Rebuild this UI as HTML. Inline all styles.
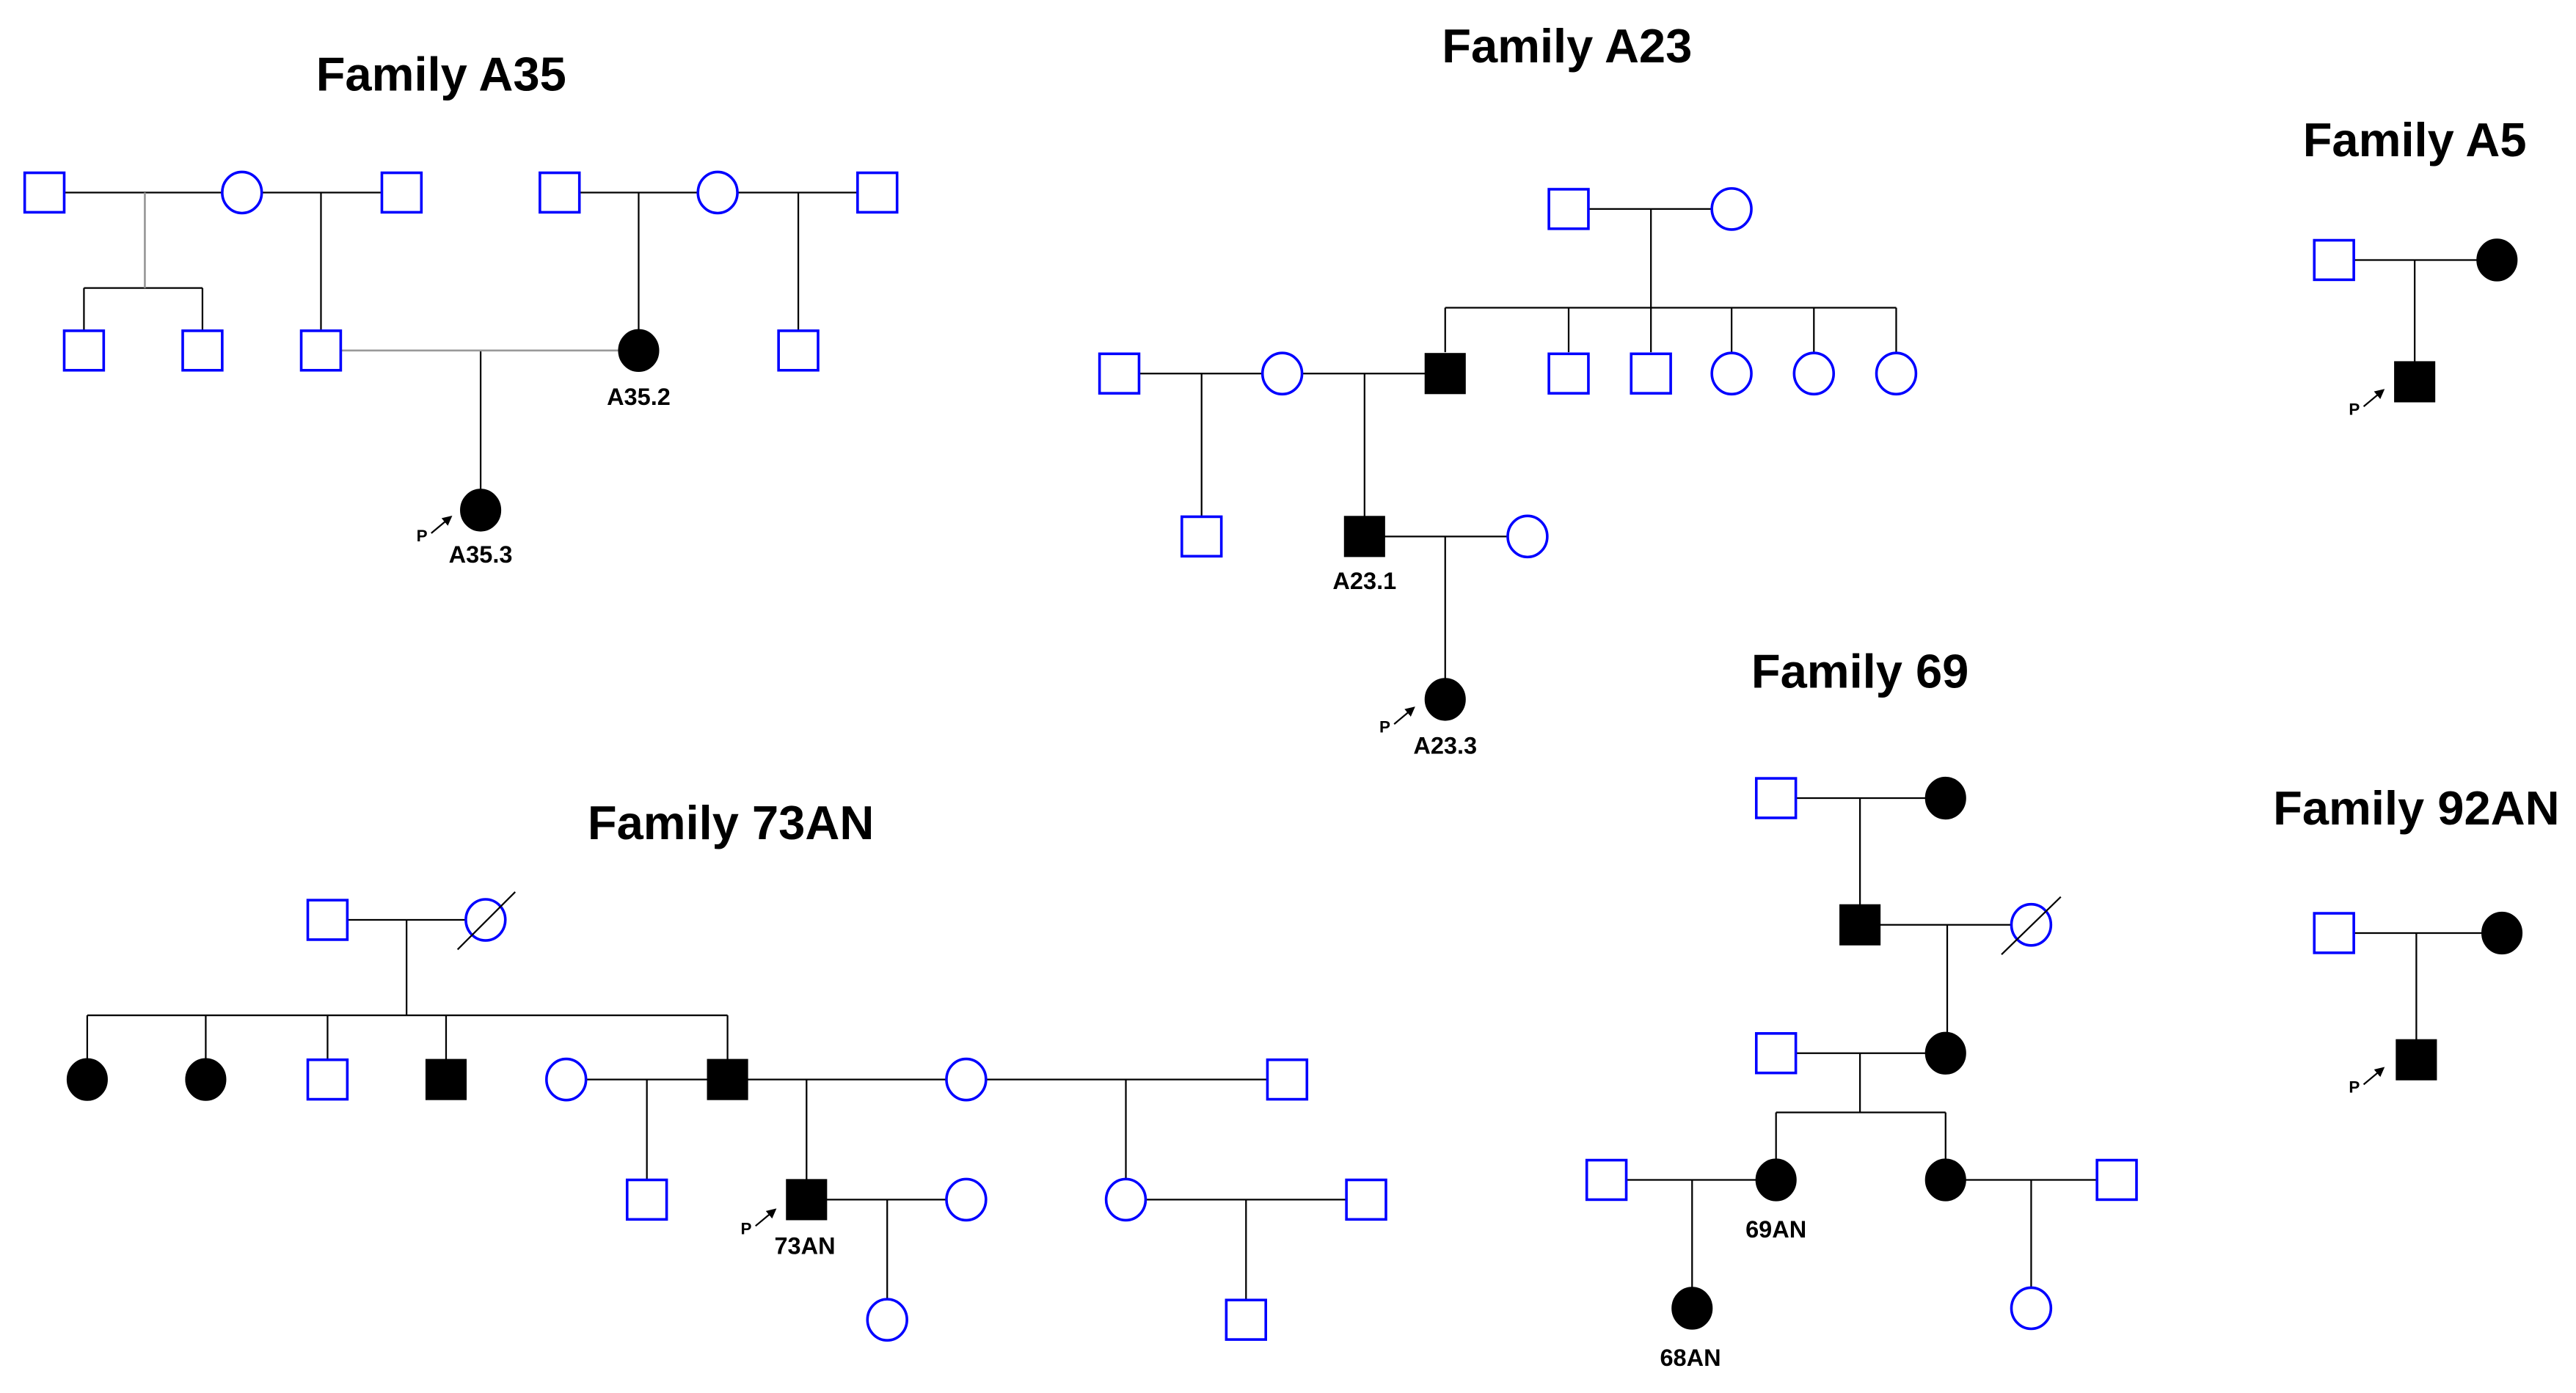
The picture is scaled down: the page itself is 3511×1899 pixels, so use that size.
<!DOCTYPE html>
<html><head><meta charset="utf-8"><style>
html,body{margin:0;padding:0;background:#fff;}
svg{display:block;}
text{font-family:"Liberation Sans",Arial,sans-serif;font-weight:bold;fill:#000;}
.t{font-size:29px;text-anchor:middle;}
.l{font-size:14.5px;text-anchor:middle;}
.p{font-size:10px;}
.s{fill:#fff;stroke:#0000ff;stroke-width:1.6;}
.f{fill:#000;stroke:#000;stroke-width:1;}
.k{stroke:#000;stroke-width:1;fill:none;}
.g{stroke:#999;stroke-width:1.2;fill:none;}
</style></head><body>
<svg width="3511" height="1899" viewBox="0 0 1565 846.5" preserveAspectRatio="none" xmlns="http://www.w3.org/2000/svg">
<defs>
<marker id="ar" markerWidth="6" markerHeight="6" refX="5" refY="3" orient="auto"><path d="M0,0 L6,3 L0,6 z" fill="#000"/></marker>
</defs>
<!-- Family A35 -->
<text class="t" x="268" y="55">Family A35</text>
<g class="k">
<path d="M39 117H135M159 117H232M352 117H424M448 117H521"/>
<path d="M195 117V201M388 117V201M485 117V201"/>
<path d="M292 213V298"/>
<path d="M51 175H123M51 175V201M123 175V201"/>
</g>
<path class="g" d="M88 117V175M207 213H376"/>
<rect class="s" x="15" y="105" width="24" height="24"/>
<rect class="s" x="232" y="105" width="24" height="24"/>
<rect class="s" x="328" y="105" width="24" height="24"/>
<rect class="s" x="521" y="105" width="24" height="24"/>
<ellipse class="s" cx="147" cy="117" rx="12" ry="12.5"/>
<ellipse class="s" cx="436" cy="117" rx="12" ry="12.5"/>
<rect class="s" x="39" y="201" width="24" height="24"/>
<rect class="s" x="111" y="201" width="24" height="24"/>
<rect class="s" x="183" y="201" width="24" height="24"/>
<rect class="s" x="473" y="201" width="24" height="24"/>
<ellipse class="f" cx="388" cy="213" rx="12" ry="12.5"/>
<ellipse class="f" cx="292" cy="310" rx="12" ry="12.5"/>
<text class="l" x="388" y="246">A35.2</text>
<text class="l" x="292" y="342">A35.3</text>
<text class="p" x="253" y="329">P</text>
<line class="k" x1="262" y1="324" x2="274" y2="314" marker-end="url(#ar)"/>

<!-- Family A23 -->
<text class="t" x="952" y="38">Family A23</text>
<g class="k">
<path d="M965 127H1040M1003 127V187M878 187H1152"/>
<path d="M878 187V214M953 187V214M1003 187V214M1052 187V214M1102 187V214M1152 187V214"/>
<path d="M692 227H767M791 227H866M730 227V314M829 227V314M841 326H916M878 326V413"/>
</g>
<rect class="s" x="941" y="115" width="24" height="24"/>
<ellipse class="s" cx="1052" cy="127" rx="12" ry="12.5"/>
<rect class="s" x="668" y="215" width="24" height="24"/>
<ellipse class="s" cx="779" cy="227" rx="12" ry="12.5"/>
<rect class="f" x="866" y="215" width="24" height="24"/>
<rect class="s" x="941" y="215" width="24" height="24"/>
<rect class="s" x="991" y="215" width="24" height="24"/>
<ellipse class="s" cx="1052" cy="227" rx="12" ry="12.5"/>
<ellipse class="s" cx="1102" cy="227" rx="12" ry="12.5"/>
<ellipse class="s" cx="1152" cy="227" rx="12" ry="12.5"/>
<rect class="s" x="718" y="314" width="24" height="24"/>
<rect class="f" x="817" y="314" width="24" height="24"/>
<ellipse class="s" cx="928" cy="326" rx="12" ry="12.5"/>
<ellipse class="f" cx="878" cy="425" rx="12" ry="12.5"/>
<text class="l" x="829" y="358">A23.1</text>
<text class="l" x="878" y="458">A23.3</text>
<text class="p" x="838" y="445">P</text>
<line class="k" x1="847" y1="440" x2="859" y2="430" marker-end="url(#ar)"/>

<!-- Family A5 -->
<text class="t" x="1467" y="95">Family A5</text>
<path class="k" d="M1430 158H1505M1467 158V220"/>
<rect class="s" x="1406" y="146" width="24" height="24"/>
<ellipse class="f" cx="1517" cy="158" rx="12" ry="12.5"/>
<rect class="f" x="1455" y="220" width="24" height="24"/>
<text class="p" x="1427" y="252">P</text>
<line class="k" x1="1436" y1="247" x2="1448" y2="237" marker-end="url(#ar)"/>

<!-- Family 92AN -->
<text class="t" x="1468" y="501">Family 92AN</text>
<path class="k" d="M1430 567H1508M1468 567V632"/>
<rect class="s" x="1406" y="555" width="24" height="24"/>
<ellipse class="f" cx="1520" cy="567" rx="12" ry="12.5"/>
<rect class="f" x="1456" y="632" width="24" height="24"/>
<text class="p" x="1427" y="664">P</text>
<line class="k" x1="1436" y1="659" x2="1448" y2="649" marker-end="url(#ar)"/>

<!-- Family 69 -->
<text class="t" x="1130" y="418">Family 69</text>
<g class="k">
<path d="M1091 485H1170M1130 485V550M1142 562H1222M1183 562V628M1091 640H1170M1130 640V676M1079 676H1182M1079 676V705M1182 676V705"/>
<path d="M988 717H1067M1194 717H1274M1028 717V783M1234 717V783"/>
</g>
<rect class="s" x="1067" y="473" width="24" height="24"/>
<ellipse class="f" cx="1182" cy="485" rx="12" ry="12.5"/>
<rect class="f" x="1118" y="550" width="24" height="24"/>
<ellipse class="s" cx="1234" cy="562" rx="12" ry="12.5"/>
<line class="k" x1="1252" y1="545" x2="1216" y2="580"/>
<rect class="s" x="1067" y="628" width="24" height="24"/>
<ellipse class="f" cx="1182" cy="640" rx="12" ry="12.5"/>
<rect class="s" x="964" y="705" width="24" height="24"/>
<ellipse class="f" cx="1079" cy="717" rx="12" ry="12.5"/>
<ellipse class="f" cx="1182" cy="717" rx="12" ry="12.5"/>
<rect class="s" x="1274" y="705" width="24" height="24"/>
<ellipse class="f" cx="1028" cy="795" rx="12" ry="12.5"/>
<ellipse class="s" cx="1234" cy="795" rx="12" ry="12.5"/>
<text class="l" x="1079" y="752">69AN</text>
<text class="l" x="1027" y="830">68AN</text>

<!-- Family 73AN -->
<text class="t" x="444" y="510">Family 73AN</text>
<g class="k">
<path d="M211 559H283M247 559V617M53 617H442M53 617V644M125 617V644M199 617V644M271 617V644M442 617V644"/>
<path d="M356 656H430M454 656H575M599 656H770M393 656V717M490 656V717M502 729H575M539 729V790M684 656V717M696 729H818M757 729V790"/>
</g>
<rect class="s" x="187" y="547" width="24" height="24"/>
<ellipse class="s" cx="295" cy="559" rx="12" ry="12.5"/>
<line class="k" x1="313" y1="542" x2="278" y2="577"/>
<ellipse class="f" cx="53" cy="656" rx="12" ry="12.5"/>
<ellipse class="f" cx="125" cy="656" rx="12" ry="12.5"/>
<rect class="s" x="187" y="644" width="24" height="24"/>
<rect class="f" x="259" y="644" width="24" height="24"/>
<ellipse class="s" cx="344" cy="656" rx="12" ry="12.5"/>
<rect class="f" x="430" y="644" width="24" height="24"/>
<ellipse class="s" cx="587" cy="656" rx="12" ry="12.5"/>
<rect class="s" x="770" y="644" width="24" height="24"/>
<rect class="s" x="381" y="717" width="24" height="24"/>
<rect class="f" x="478" y="717" width="24" height="24"/>
<ellipse class="s" cx="587" cy="729" rx="12" ry="12.5"/>
<ellipse class="s" cx="684" cy="729" rx="12" ry="12.5"/>
<rect class="s" x="818" y="717" width="24" height="24"/>
<ellipse class="s" cx="539" cy="802" rx="12" ry="12.5"/>
<rect class="s" x="745" y="790" width="24" height="24"/>
<text class="l" x="489" y="762">73AN</text>
<text class="p" x="450" y="750">P</text>
<line class="k" x1="459" y1="745" x2="471" y2="735" marker-end="url(#ar)"/>
</svg>
</body></html>
